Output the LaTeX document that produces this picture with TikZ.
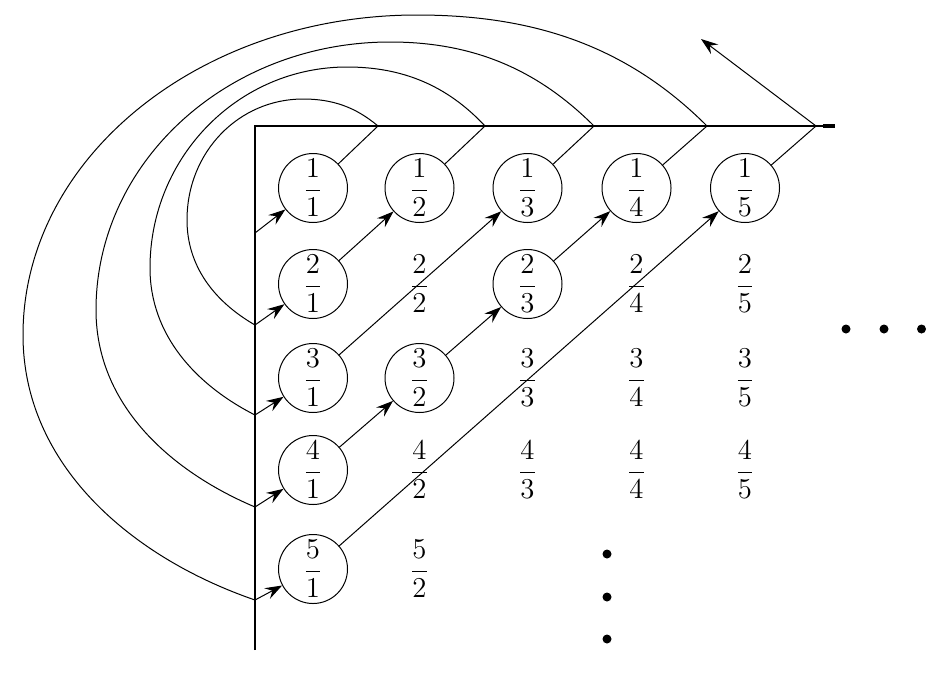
\documentclass[tikz,border=0pt]{standalone}
\usetikzlibrary{arrows.meta}
\newcommand\myfr[2]{$\displaystyle\frac{#1}{#2}$}
\begin{document}
\begin{tikzpicture}[x=0.5pt,y=-0.5pt,
  circ/.style={draw, circle, minimum size=34.5pt, inner sep=0pt, font=\Large, line width=0.5pt},
  plainfr/.style={inner sep=0pt, font=\Large},
  conn/.style={line width=0.5pt},
  arr/.style={conn, -{Stealth[length=8.5pt,width=6pt,inset=3pt]}},
  axisline/.style={line width=1.3pt},
  dotc/.style={fill=black}
]
\useasboundingbox (0,0) rectangle (951,675);
% axes
\draw[axisline] (255,650) -- (255,126) -- (835,126);
\draw[line width=1.9pt] (823,126) -- (835,126);
% coordinates on the axes
\coordinate (l1) at (255,233);
\coordinate (l2) at (255,325);
\coordinate (l3) at (255,415);
\coordinate (l4) at (255,507);
\coordinate (l5) at (255,600);
\coordinate (t1) at (378,126);
\coordinate (t2) at (485,126);
\coordinate (t3) at (594,126);
\coordinate (t4) at (707,126);
\coordinate (t5) at (816,126);
\coordinate (tip) at (701,39);
% row 1
\node[circ] (n11) at (313,188) {\myfr{1}{1}};
\node[circ] (n12) at (419.5,188) {\myfr{1}{2}};
\node[circ] (n13) at (527.5,188) {\myfr{1}{3}};
\node[circ] (n14) at (636.5,188) {\myfr{1}{4}};
\node[circ] (n15) at (745,188) {\myfr{1}{5}};
% row 2
\node[circ] (n21) at (313,284) {\myfr{2}{1}};
\node[plainfr] (n22) at (419.5,284) {\myfr{2}{2}};
\node[circ] (n23) at (527.5,284) {\myfr{2}{3}};
\node[plainfr] (n24) at (636.5,284) {\myfr{2}{4}};
\node[plainfr] (n25) at (745,284) {\myfr{2}{5}};
% row 3
\node[circ] (n31) at (313,378) {\myfr{3}{1}};
\node[circ] (n32) at (419.5,378) {\myfr{3}{2}};
\node[plainfr] (n33) at (527.5,378) {\myfr{3}{3}};
\node[plainfr] (n34) at (636.5,378) {\myfr{3}{4}};
\node[plainfr] (n35) at (745,378) {\myfr{3}{5}};
% row 4
\node[circ] (n41) at (313,470) {\myfr{4}{1}};
\node[plainfr] (n42) at (419.5,470) {\myfr{4}{2}};
\node[plainfr] (n43) at (527.5,470) {\myfr{4}{3}};
\node[plainfr] (n44) at (636.5,470) {\myfr{4}{4}};
\node[plainfr] (n45) at (745,470) {\myfr{4}{5}};
% row 5
\node[circ] (n51) at (313,569) {\myfr{5}{1}};
\node[plainfr] (n52) at (419.5,569) {\myfr{5}{2}};
% diagonal 1
\draw[arr] (l1) -- (n11);
\draw[conn] (n11) -- (t1);
\draw[conn] (t1) .. controls (355.4,107) and (332.5,99) .. (303,99)
  .. controls (238.9,99) and (187,151.8) .. (187,220)
  .. controls (187,266) and (214.1,301.4) .. (l2);
% diagonal 2
\draw[arr] (l2) -- (n21);
\draw[arr] (n21) -- (n12);
\draw[conn] (n12) -- (t2);
\draw[conn] (t2) .. controls (447.1,85.4) and (402.5,67) .. (347,67)
  .. controls (238.2,67) and (150,157) .. (150,268)
  .. controls (150,334.8) and (195.5,384.7) .. (l3);
% diagonal 3
\draw[arr] (l3) -- (n31);
\draw[arr] (n31) -- (n13);
\draw[conn] (n13) -- (t3);
\draw[conn] (t3) .. controls (536.3,68.3) and (471.6,42) .. (390,42)
  .. controls (227.6,42) and (96,162) .. (96,310)
  .. controls (96,403.7) and (168.7,470.4) .. (l4);
% diagonal 4
\draw[arr] (l4) -- (n41);
\draw[arr] (n41) -- (n32);
\draw[arr] (n32) -- (n23);
\draw[arr] (n23) -- (n14);
\draw[conn] (n14) -- (t4);
\draw[conn] (t4) .. controls (625.8,44.8) and (531.9,15) .. (417,15)
  .. controls (199.4,15) and (23,158.3) .. (23,335)
  .. controls (23,465.3) and (131.8,557.6) .. (l5);
% diagonal 5
\draw[arr] (l5) -- (n51);
\draw[arr] (n51) -- (n15);
\draw[conn] (n15) -- (t5);
\draw[arr] (t5) -- (tip);
% dots
\fill[dotc] (607,554) circle (2.25pt);
\fill[dotc] (607,597) circle (2.25pt);
\fill[dotc] (607,639) circle (2.25pt);
\fill[dotc] (846,329) circle (2.25pt);
\fill[dotc] (884,329) circle (2.25pt);
\fill[dotc] (921.5,329) circle (2.25pt);
\end{tikzpicture}
\end{document}
